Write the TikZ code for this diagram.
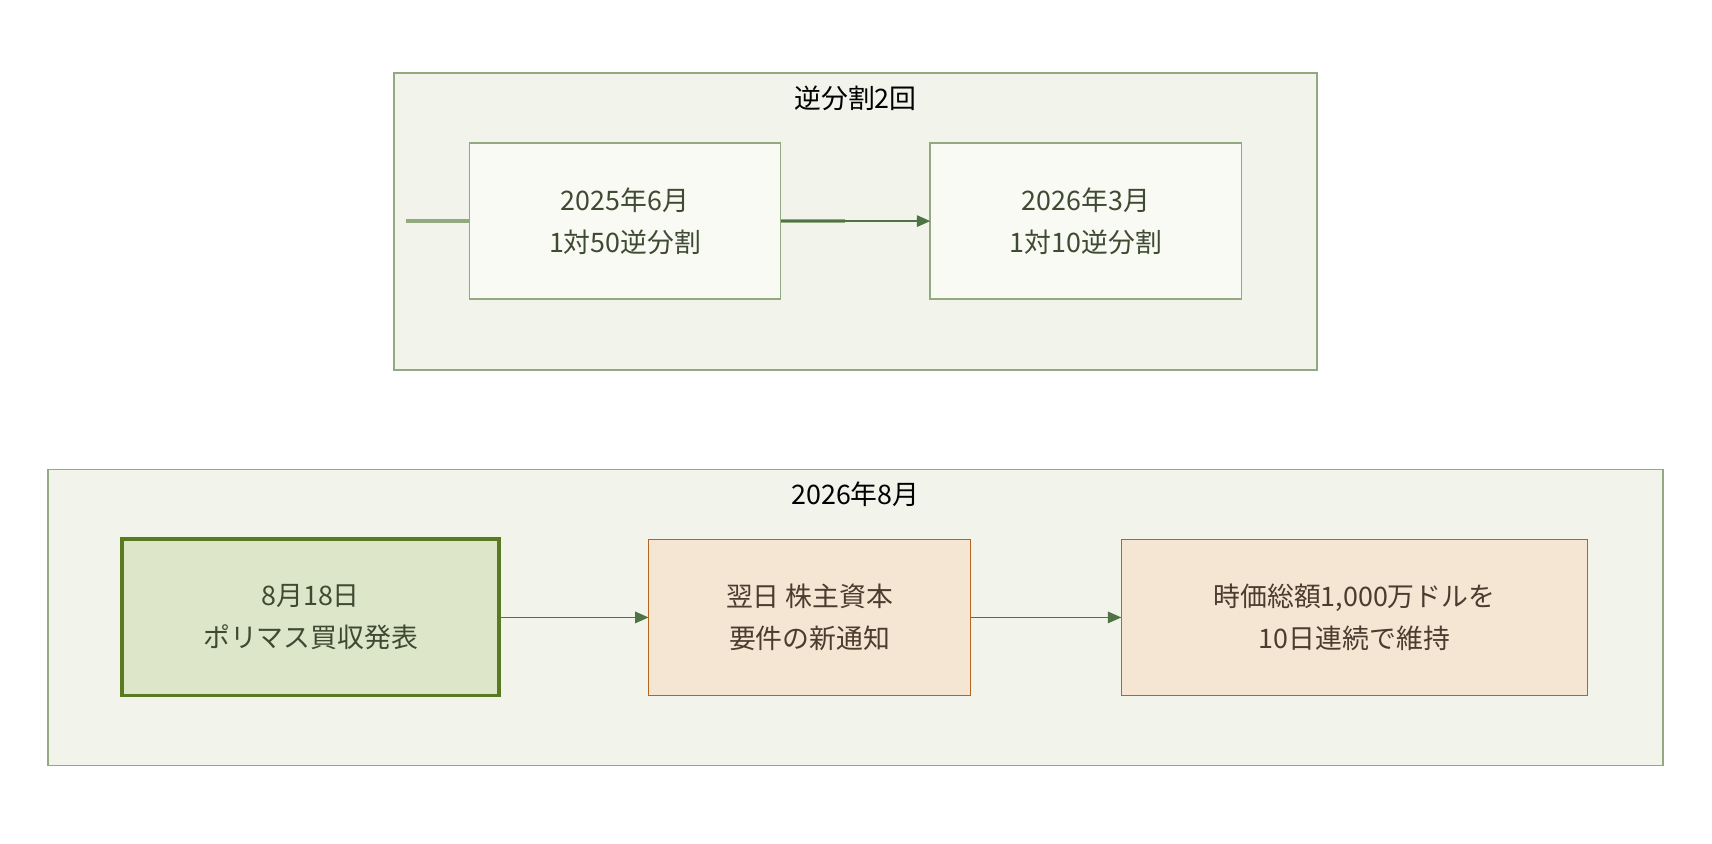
\documentclass[tikz,border=0pt]{standalone}
\usepackage{fontspec}
\setmainfont{Noto Sans CJK JP}
\usetikzlibrary{arrows.meta}
\definecolor{contF}{HTML}{F2F3EB}
\definecolor{contD}{HTML}{93A97F}
\definecolor{boxF}{HTML}{F9FAF4}
\definecolor{grnF}{HTML}{DDE6C8}
\definecolor{grnD}{HTML}{5A7A22}
\definecolor{orF}{HTML}{F5E6D4}
\definecolor{orD}{HTML}{B5651D}
\definecolor{arr}{HTML}{4F7444}
\definecolor{txt}{HTML}{3F4A33}
\definecolor{otxt}{HTML}{4A3C2E}
\begin{document}
\begin{tikzpicture}[x=0.02cm,y=-0.02cm,
  cont/.style={draw=contD,fill=contF,line width=0.8pt},
  bx/.style={draw=contD,fill=boxF,line width=0.8pt,text=txt,align=center,font=\fontsize{14}{22}\selectfont},
  gbx/.style={draw=grnD,fill=grnF,line width=2pt,text=txt,align=center,font=\fontsize{14}{22}\selectfont},
  obx/.style={draw=orD,fill=orF,line width=0.8pt,text=otxt,align=center,font=\fontsize{14}{22}\selectfont},
  ttl/.style={font=\fontsize{14}{18}\selectfont,text=black},
  ar/.style={draw=arr,line width=0.8pt,-{Triangle[length=7pt,width=6pt]}}]
\useasboundingbox (0,0) rectangle (1568,773);
\draw[cont] (361,67) rectangle (1206,339);
\node[ttl] (t1) at (783.5,90) {逆分割2回};
\draw[cont] (44,430) rectangle (1523,701);
\node[ttl] (t2) at (783.5,453) {2026年8月};
\node[bx,minimum width=285\pgflinewidth,inner sep=0] (a) at (572.5,202.5) {};
\draw[bx] (430,131) rectangle (715,274);
\node[bx,draw=none,fill=none] (a) at (572.5,202.5) {2025年6月\\1対50逆分割};
\draw[bx] (852,131) rectangle (1137,274);
\node[bx,draw=none,fill=none] (b) at (994.5,202.5) {2026年3月\\1対10逆分割};
\draw[gbx] (112,494) rectangle (457,637);
\node[gbx,draw=none,fill=none] (c) at (284.5,565.5) {8月18日\\ポリマス買収発表};
\draw[obx] (594,494) rectangle (889,637);
\node[obx,draw=none,fill=none] (d) at (741.5,565.5) {翌日 株主資本\\要件の新通知};
\draw[obx] (1027,494) rectangle (1454,637);
\node[obx,draw=none,fill=none] (e) at (1240.5,565.5) {時価総額1,000万ドルを\\10日連続で維持};
\coordinate (aR) at (715,202.5); \coordinate (bL) at (852,202.5);
\coordinate (cR) at (458,565.5); \coordinate (dL) at (594,565.5);
\coordinate (dR) at (889,565.5); \coordinate (eL) at (1027,565.5);
\draw[ar] (aR) -- (bL);
\draw[ar] (cR) -- (dL);
\draw[ar] (dR) -- (eL);
\end{tikzpicture}
\end{document}
